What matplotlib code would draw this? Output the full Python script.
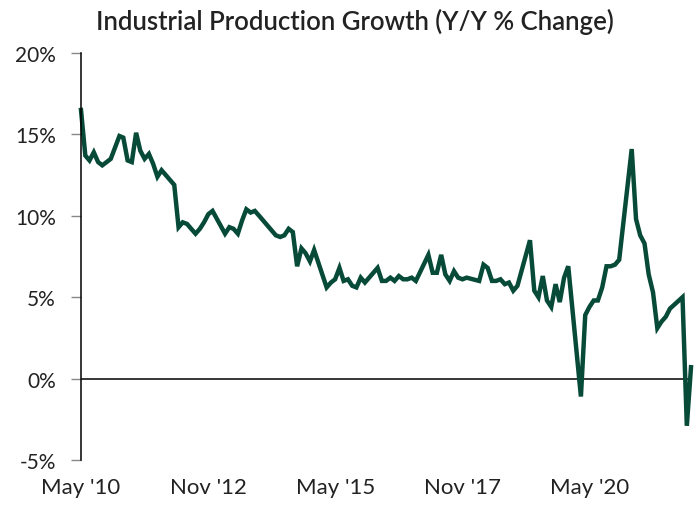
import numpy as np
import pandas as pd
import matplotlib
matplotlib.use("Agg")
import matplotlib.pyplot as plt

plt.rcParams["font.family"] = ["Lato", "DejaVu Sans"]

# Monthly Y/Y % change, May 2010 - May 2022 (Jan/Feb mostly not reported)
nan = np.nan
y2010 = [16.5, 13.7, 13.4, 13.9, 13.3, 13.1, 13.3, 13.5]  # May-Dec
y2011 = [nan, 14.9, 14.8, 13.4, 13.3, 15.1, 14.0, 13.5, 13.8, 13.2, 12.4, 12.8]
y2012 = [nan, nan, 11.9, 9.3, 9.6, 9.5, 9.2, 8.9, 9.2, 9.6, 10.1, 10.3]
y2013 = [nan, nan, 8.9, 9.3, 9.2, 8.9, 9.7, 10.4, 10.2, 10.3, 10.0, 9.7]
y2014 = [nan, nan, 8.8, 8.7, 8.8, 9.2, 9.0, 6.9, 8.0, 7.7, 7.2, 7.9]
y2015 = [nan, nan, 5.6, 5.9, 6.1, 6.8, 6.0, 6.1, 5.7, 5.6, 6.2, 5.9]
y2016 = [nan, nan, 6.8, 6.0, 6.0, 6.2, 6.0, 6.3, 6.1, 6.1, 6.2, 6.0]
y2017 = [nan, nan, 7.6, 6.5, 6.5, 7.6, 6.4, 6.0, 6.6, 6.2, 6.1, 6.2]
y2018 = [nan, nan, 6.0, 7.0, 6.8, 6.0, 6.0, 6.1, 5.8, 5.9, 5.4, 5.7]
y2019 = [nan, nan, 8.5, 5.4, 5.0, 6.3, 4.8, 4.4, 5.8, 4.7, 6.2, 6.9]
y2020 = [nan, nan, -1.1, 3.9, 4.4, 4.8, 4.8, 5.6, 6.9, 6.9, 7.0, 7.3]
y2021 = [nan, nan, 14.1, 9.8, 8.8, 8.3, 6.4, 5.3, 3.1, 3.5, 3.8, 4.3]
y2022 = [nan, nan, 5.0, -2.9, 0.7]  # Jan-May

values = (y2010 + y2011 + y2012 + y2013 + y2014 + y2015 + y2016
          + y2017 + y2018 + y2019 + y2020 + y2021 + y2022)
dates = pd.date_range("2010-05-01", "2022-05-01", freq="MS")
series = pd.Series(values, index=dates).dropna()

y_ticks = [-5, 0, 5, 10, 15, 20]
x_tick_dates = pd.to_datetime(["2010-05-01", "2012-11-01", "2015-05-01",
                               "2017-11-01", "2020-05-01"])
x_labels = ["May '10", "Nov '12", "May '15", "Nov '17", "May '20"]

line_color = "#074a38"
text_color = "#222222"

fig = plt.figure(figsize=(6.96, 5.06), dpi=100)
ax = fig.add_axes([81 / 696, 45 / 506, 610 / 696, 407 / 506])

ax.plot(series.index, series.values, color=line_color, linewidth=3.2,
        solid_joinstyle="miter", clip_on=False)
ax.axhline(0, color="black", linewidth=1.1, zorder=1)

ax.set_xlim(dates[0], dates[-1])
ax.set_ylim(-5, 20)
ax.set_yticks(y_ticks)
ax.set_yticklabels([f"{t}%" for t in y_ticks])
ax.tick_params(axis="y", length=7, width=1, color="#888888", pad=11,
               labelsize=15, labelcolor=text_color)
ax.set_xticks(x_tick_dates)
ax.set_xticklabels(x_labels)
ax.tick_params(axis="x", length=0, pad=12, labelsize=16,
               labelcolor=text_color)

for s in ["top", "right", "bottom"]:
    ax.spines[s].set_visible(False)
ax.spines["left"].set_linewidth(1.1)
ax.spines["left"].set_color("black")

fig.text(0.51, 0.957, "Industrial Production Growth (Y/Y % Change)",
         ha="center", va="center", fontsize=18.5, fontweight="semibold",
         color=text_color)

fig.savefig("out.png", dpi=100)
